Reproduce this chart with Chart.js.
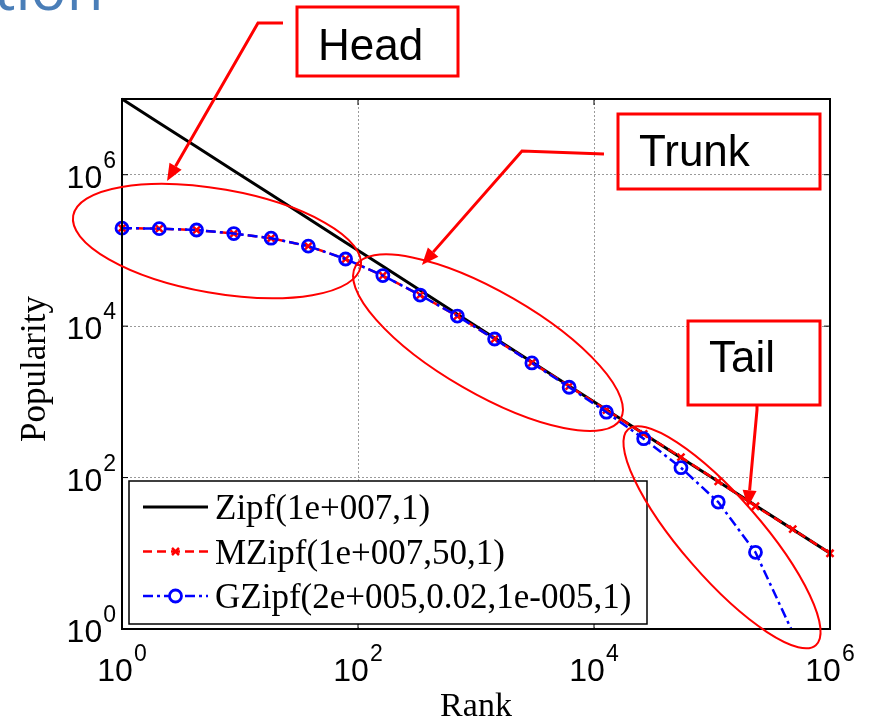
<!DOCTYPE html>
<html>
<head>
<meta charset="utf-8">
<title>Zipf / MZipf / GZipf popularity</title>
<script src="https://cdn.jsdelivr.net/npm/chart.js@4.4.1/dist/chart.umd.min.js"></script>
<style>
  html, body { margin: 0; padding: 0; background: #fff; }
  #wrap { position: relative; width: 869px; height: 723px; }
</style>
</head>
<body>
<div id="wrap"><canvas id="chart"></canvas></div>
<script>
const ranks = [1, 2.069, 4.281, 8.859, 18.33, 37.93, 78.48, 162.4, 336.0, 695.2,
               1438, 2976, 6158, 12743, 26367, 54556, 112884, 233572, 483293, 1000000];

// popularity for each series
const zipfValues  = [1e7, 4.83e6, 2.34e6, 1.13e6, 5.46e5, 2.64e5, 1.27e5, 6.16e4, 2.98e4, 1.44e4,
                     6950, 3360, 1620, 785, 379, 183, 88.6, 42.8, 20.7, 10];
const mzipfValues = [1.97e5, 1.94e5, 1.86e5, 1.67e5, 1.45e5, 1.14e5, 7.7e4, 4.66e4, 2.57e4, 1.36e4,
                     6760, 3300, 1610, 780, 378, 186, 89, 41.8, 20.8, 10];
const gzipfValues = [1.97e5, 1.94e5, 1.86e5, 1.67e5, 1.45e5, 1.14e5, 7.7e4, 4.66e4, 2.57e4, 1.36e4,
                     6760, 3270, 1560, 730, 326, 135, 47.5, 10.3, 0.9];

const seriesNames = ['Zipf(1e+007,1)', 'MZipf(1e+007,50,1)', 'GZipf(2e+005,0.02,1e-005,1)'];
const xTickValues = [1, 1e2, 1e4, 1e6];
const yTickValues = [1, 1e2, 1e4, 1e6];
const regionNames = ['Head', 'Trunk', 'Tail'];

function toPoints(values) {
  return values.map((v, i) => ({ x: ranks[i], y: v }));
}

// callouts drawn on top of the plot (slide annotations)
const callouts = [
  { box: [297, 7, 161, 69],   fill: false, textX: 318, baseline: 60,
    path: [[283, 23], [258, 23]], tip: { x: 2.41, y: 8.24e5 },
    ellipse: { x: 6.38, y: 1.33e5, a: 146, b: 52, angle: 10 } },
  { box: [618, 114, 202, 75], fill: false, textX: 639, baseline: 166,
    path: [[604, 154], [522, 151]], tip: { x: 348, y: 6.44e4 },
    ellipse: { x: 1264, y: 6040, a: 153, b: 51, angle: 30 } },
  { box: [688, 321, 132, 84], fill: true, textX: 709, baseline: 372,
    path: [[757, 410]], tip: { x: 2.02e5, y: 40.5 },
    ellipse: { x: 1.216e5, y: 16.3, a: 143, b: 40, angle: 49 } }
];

const RED = '#ff0000', BLUE = '#0000ff';

function drawPow(ctx, exp, x, y, align) {
  ctx.font = '32px "Liberation Sans", Arial, sans-serif';
  const wBase = ctx.measureText('10').width;
  ctx.font = '23px "Liberation Sans", Arial, sans-serif';
  const wExp = ctx.measureText(exp).width;
  const total = wBase + 1 + wExp;
  const left = align === 'center' ? x - total / 2 : x - total;
  ctx.textAlign = 'left';
  ctx.textBaseline = 'alphabetic';
  ctx.font = '32px "Liberation Sans", Arial, sans-serif';
  ctx.fillText('10', left, y);
  ctx.font = '23px "Liberation Sans", Arial, sans-serif';
  ctx.fillText(exp, left + wBase + 1, y - 20);
}

function drawArrow(ctx, pts) {
  const n = pts.length;
  const [tx, ty] = pts[n - 1];
  const [px, py] = pts[n - 2];
  const ang = Math.atan2(ty - py, tx - px);
  const len = 17, half = 7;
  const bx = tx - Math.cos(ang) * len, by = ty - Math.sin(ang) * len;
  ctx.beginPath();
  ctx.moveTo(pts[0][0], pts[0][1]);
  for (let i = 1; i < n - 1; i++) ctx.lineTo(pts[i][0], pts[i][1]);
  ctx.lineTo(bx, by);
  ctx.stroke();
  ctx.beginPath();
  ctx.moveTo(tx, ty);
  ctx.lineTo(bx - Math.sin(ang) * half, by + Math.cos(ang) * half);
  ctx.lineTo(bx + Math.sin(ang) * half, by - Math.cos(ang) * half);
  ctx.closePath();
  ctx.fill();
}

const decorations = {
  id: 'decorations',
  afterDatasetsDraw(chart) {
    const ctx = chart.ctx;
    const ca = chart.chartArea;
    const xs = chart.scales.x, ys = chart.scales.y;
    ctx.save();

    // axes box
    ctx.strokeStyle = '#000';
    ctx.lineWidth = 2;
    ctx.strokeRect(ca.left, ca.top, ca.right - ca.left, ca.bottom - ca.top);

    // inward tick marks
    ctx.lineWidth = 1;
    ctx.beginPath();
    xTickValues.forEach(v => {
      const px = xs.getPixelForValue(v);
      ctx.moveTo(px, ca.bottom); ctx.lineTo(px, ca.bottom - 6);
      ctx.moveTo(px, ca.top); ctx.lineTo(px, ca.top + 6);
    });
    yTickValues.forEach(v => {
      const py = ys.getPixelForValue(v);
      ctx.moveTo(ca.left, py); ctx.lineTo(ca.left + 6, py);
      ctx.moveTo(ca.right, py); ctx.lineTo(ca.right - 6, py);
    });
    ctx.stroke();

    // tick labels 10^n
    ctx.fillStyle = '#000';
    xTickValues.forEach(v => {
      drawPow(ctx, String(Math.round(Math.log10(v))), xs.getPixelForValue(v), ca.bottom + 52, 'center');
    });
    yTickValues.forEach(v => {
      drawPow(ctx, String(Math.round(Math.log10(v))), ca.left - 6, ys.getPixelForValue(v) + 13, 'right');
    });

    // axis titles
    ctx.font = '34px "Liberation Serif", "Times New Roman", serif';
    ctx.textAlign = 'center';
    ctx.textBaseline = 'alphabetic';
    ctx.fillText('Rank', (ca.left + ca.right) / 2, ca.bottom + 87);
    ctx.save();
    ctx.translate(45, (ca.top + ca.bottom) / 2 + 5);
    ctx.rotate(-Math.PI / 2);
    ctx.font = '35px "Liberation Serif", "Times New Roman", serif';
    ctx.fillText('Popularity', 0, 0);
    ctx.restore();

    // legend box
    const lx = ca.left + 7, lw = 518, lh = 143, ly = ca.bottom - 5 - lh;
    ctx.fillStyle = '#fff';
    ctx.fillRect(lx, ly, lw, lh);
    ctx.strokeStyle = '#000';
    ctx.lineWidth = 1.5;
    ctx.strokeRect(lx, ly, lw, lh);
    const styles = [
      { color: '#000', dash: [], width: 3, marker: null },
      { color: RED, dash: [9, 5], width: 2.5, marker: 'x' },
      { color: BLUE, dash: [10, 4, 3, 4], width: 2.5, marker: 'o' }
    ];
    seriesNames.forEach((name, i) => {
      const ry = ly + 26 + i * 44.5;
      const st = styles[i];
      ctx.strokeStyle = st.color;
      ctx.lineWidth = st.width;
      ctx.setLineDash(st.dash);
      ctx.beginPath();
      ctx.moveTo(lx + 14, ry); ctx.lineTo(lx + 79, ry);
      ctx.stroke();
      ctx.setLineDash([]);
      const mx = lx + 46.5;
      if (st.marker === 'x') {
        ctx.lineWidth = 2.5;
        ctx.beginPath();
        ctx.moveTo(mx - 3.5, ry - 3.5); ctx.lineTo(mx + 3.5, ry + 3.5);
        ctx.moveTo(mx - 3.5, ry + 3.5); ctx.lineTo(mx + 3.5, ry - 3.5);
        ctx.stroke();
      } else if (st.marker === 'o') {
        ctx.lineWidth = 2.8;
        ctx.fillStyle = '#fff';
        ctx.beginPath();
        ctx.arc(mx, ry, 6, 0, Math.PI * 2);
        ctx.fill();
        ctx.stroke();
      }
      ctx.fillStyle = '#000';
      ctx.font = '35px "Liberation Serif", "Times New Roman", serif';
      ctx.textAlign = 'left';
      ctx.fillText(name, lx + 86, ry + 12);
    });

    // region callouts: ellipses, arrows and labelled boxes
    ctx.strokeStyle = RED;
    ctx.fillStyle = RED;
    callouts.forEach((c, i) => {
      const e = c.ellipse;
      ctx.lineWidth = 2;
      ctx.beginPath();
      ctx.ellipse(xs.getPixelForValue(e.x), ys.getPixelForValue(e.y), e.a, e.b,
                  e.angle * Math.PI / 180, 0, Math.PI * 2);
      ctx.stroke();

      ctx.lineWidth = 3;
      const pts = c.path.map(p => p.slice());
      if (pts.length === 1) pts.unshift([c.box[0] + c.box[2] / 2 + 3, c.box[1] + c.box[3]]);
      pts.push([xs.getPixelForValue(c.tip.x), ys.getPixelForValue(c.tip.y)]);
      ctx.fillStyle = RED;
      drawArrow(ctx, pts);

      const [bx, by, bw, bh] = c.box;
      if (c.fill) { ctx.fillStyle = '#fff'; ctx.fillRect(bx, by, bw, bh); }
      ctx.lineWidth = 3;
      ctx.strokeRect(bx, by, bw, bh);
      ctx.fillStyle = '#000';
      ctx.font = '44px "Liberation Sans", Arial, sans-serif';
      ctx.textAlign = 'left';
      ctx.fillText(regionNames[i], c.textX, c.baseline);
      ctx.fillStyle = RED;
    });

    // cut-off slide title
    ctx.fillStyle = '#4a7eb8';
    ctx.font = '60px "Open Sans", sans-serif';
    ctx.textAlign = 'left';
    ctx.fillText('tion', -6, 10);

    ctx.restore();
  }
};

// hide the marker of any sample that falls below the axis floor
const markerRadius = r => ctx => (ctx.raw && ctx.raw.y < 1 ? 0 : r);

new Chart(document.getElementById('chart'), {
  type: 'line',
  data: {
    datasets: [
      {
        label: seriesNames[0],
        data: toPoints(zipfValues),
        borderColor: '#000',
        borderWidth: 3,
        pointRadius: 0,
        order: 3,
        clip: { left: 20, right: 20, top: 20, bottom: 0 }
      },
      {
        label: seriesNames[1],
        data: toPoints(mzipfValues),
        borderColor: RED,
        borderWidth: 2.5,
        borderDash: [9, 5],
        pointStyle: 'crossRot',
        pointRadius: markerRadius(5),
        pointBorderWidth: 2.5,
        pointBorderColor: RED,
        pointBackgroundColor: RED,
        order: 2,
        clip: { left: 20, right: 20, top: 20, bottom: 0 }
      },
      {
        label: seriesNames[2],
        data: toPoints(gzipfValues),
        borderColor: BLUE,
        borderWidth: 2.5,
        borderDash: [10, 4, 3, 4],
        pointStyle: 'circle',
        pointRadius: markerRadius(6),
        pointBorderWidth: 2.8,
        pointBorderColor: BLUE,
        pointBackgroundColor: 'rgba(0,0,0,0)',
        order: 1,
        clip: { left: 20, right: 20, top: 20, bottom: 0 }
      }
    ]
  },
  options: {
    responsive: true,
    maintainAspectRatio: false,
    animation: false,
    events: [],
    layout: { padding: { left: 122, right: 39, top: 99, bottom: 94 } },
    plugins: { legend: { display: false }, tooltip: { enabled: false } },
    elements: { line: { tension: 0 } },
    scales: {
      x: {
        type: 'logarithmic',
        min: 1,
        max: 1e6,
        ticks: { display: false },
        grid: { color: '#9a9a9a', lineWidth: 1, drawTicks: false },
        border: { display: false, dash: [2, 2] },
        afterBuildTicks: axis => { axis.ticks = xTickValues.map(v => ({ value: v })); },
        afterFit: axis => { axis.height = 0; }
      },
      y: {
        type: 'logarithmic',
        min: 1,
        max: 1e7,
        ticks: { display: false },
        grid: { color: '#9a9a9a', lineWidth: 1, drawTicks: false },
        border: { display: false, dash: [2, 2] },
        afterBuildTicks: axis => { axis.ticks = yTickValues.map(v => ({ value: v })); },
        afterFit: axis => { axis.width = 0; }
      }
    }
  },
  plugins: [decorations]
});
</script>
</body>
</html>
